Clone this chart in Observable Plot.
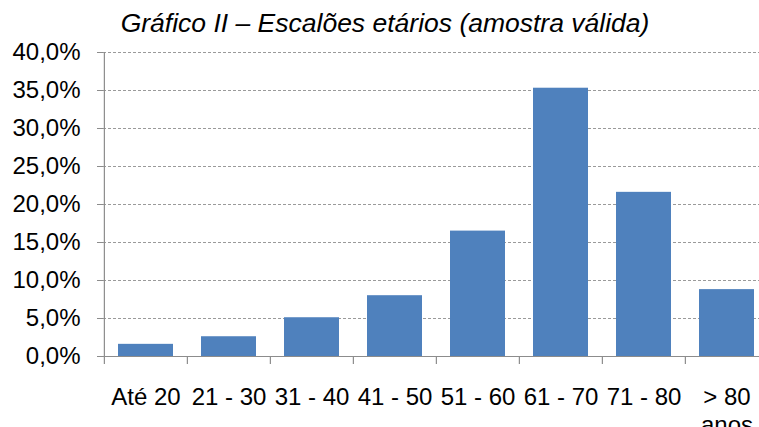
<!DOCTYPE html>
<html><head><meta charset="utf-8">
<script src="https://cdn.jsdelivr.net/npm/d3@7"></script>
<script src="https://cdn.jsdelivr.net/npm/@observablehq/plot@0.6"></script>
<style>
body{margin:0;background:#fff;font-family:"Liberation Sans",Arial,sans-serif;}
#wrap{position:relative;width:759px;height:427px;overflow:hidden;}
#title{position:absolute;left:0;top:7px;width:759px;text-align:center;font-style:italic;font-size:26.5px;padding-left:11px;box-sizing:border-box;color:#000;line-height:32px;white-space:nowrap;}
</style></head>
<body>
<div id="wrap"><div id="chart"></div><div id="title">Gráfico II – Escalões etários (amostra válida)</div></div>
<script>
const categories = ["Até 20","21 - 30","31 - 40","41 - 50","51 - 60","61 - 70","71 - 80","> 80 anos"];
const values = [1.6, 2.6, 5.1, 8.0, 16.5, 35.3, 21.6, 8.8];
const yTicks = [0,5,10,15,20,25,30,35,40];

const data = categories.map((c,i)=>({cat:c, pct:values[i]}));
const W = 759, ML = 103, MR = -10;
const step = (W - ML - MR) / categories.length;
const fmt = d => d.toFixed(1).replace(".", ",") + "%";

const chart = Plot.plot({
  width: W, height: 427,
  marginLeft: ML, marginRight: MR, marginTop: 52, marginBottom: 71,
  x: {domain: categories, paddingInner: 0.34, paddingOuter: 0.17, label: null},
  y: {domain: [0,40], label: null},
  style: {fontFamily: "'Liberation Sans', Arial, sans-serif", fontSize: "24px", color: "#000", background: "#fff"},
  marks: [
    Plot.ruleY(yTicks.slice(1), {stroke: "#9a9a9a", strokeDasharray: "3,2", strokeWidth: 1}),
    Plot.barY(data, {x: "cat", y: "pct", fill: "#4F81BD"}),
    Plot.ruleY([0], {stroke: "#8c8c8c", strokeWidth: 1.2, insetLeft: -6}),
    Plot.ruleX([categories[0]], {dx: -step/2, y1: 0, y2: 40, stroke: "#8c8c8c", strokeWidth: 1.2}),
    Plot.ruleX(categories, {dx: -step/2, y1: 0, y2: -1.05, stroke: "#8c8c8c", strokeWidth: 1.2}),
    Plot.axisY({ticks: yTicks, tickFormat: fmt, tickSize: 6, tickPadding: 17, stroke: "#8c8c8c", fill: "#000", label: null}),
    Plot.axisX({tickSize: 0, tickPadding: 29, fill: "#000", label: null, lineHeight: 1.15,
      tickFormat: d => d.replace(" anos", "\nanos")})
  ]
});
document.getElementById("chart").appendChild(chart);
</script>
</body></html>
